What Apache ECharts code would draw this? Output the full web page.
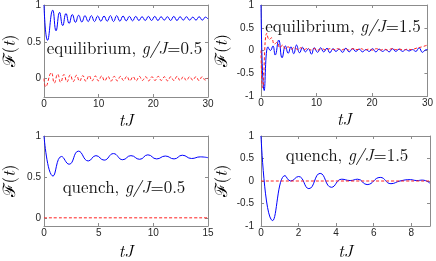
<!DOCTYPE html>
<html><head><meta charset="utf-8">
<script src="https://cdn.jsdelivr.net/npm/echarts@6/dist/echarts.min.js"></script>
<style>html,body{margin:0;padding:0;background:#fff}#c{width:436px;height:261px}</style>
</head><body><div id="c"></div>
<script>
// ---- data: [tJ, F(t)] ----
const eq05Blue = [[0,1.0],[0.65,0.52],[1.6,0.93],[2.2,0.65],[2.85,0.9],[3.42,0.72],[4.02,0.885],[4.6,0.75],[5.18,0.87],[5.76,0.765],[6.34,0.86],[6.92,0.77],[7.5,0.855],[8.08,0.775],[8.66,0.855],[9.24,0.775],[9.82,0.85],[10.4,0.78],[10.98,0.85],[11.56,0.78],[12.14,0.855],[12.72,0.775],[13.3,0.855],[13.88,0.78],[14.46,0.85],[15.04,0.785],[15.62,0.845],[16.2,0.785],[16.78,0.845],[17.36,0.79],[17.94,0.84],[18.52,0.79],[19.1,0.845],[19.68,0.79],[20.26,0.845],[20.84,0.79],[21.42,0.84],[22.0,0.795],[22.58,0.84],[23.16,0.79],[23.74,0.845],[24.32,0.79],[24.9,0.84],[25.48,0.795],[26.06,0.84],[26.64,0.795],[27.22,0.835],[27.8,0.795],[28.38,0.84],[28.96,0.795],[29.54,0.835],[30,0.81]];
const eq05Red = [[0,0],[0.3,-0.11],[1.35,0.08],[1.9,-0.06],[2.5,0.06],[3.05,-0.05],[3.65,0.055],[4.2,-0.045],[4.8,0.05],[5.35,-0.04],[5.95,0.045],[6.5,-0.035],[7.1,0.04],[7.65,-0.035],[8.25,0.04],[8.8,-0.03],[9.4,0.035],[9.95,-0.03],[10.55,0.035],[11.1,-0.03],[11.7,0.03],[12.25,-0.035],[12.85,0.03],[13.4,-0.03],[14.0,0.03],[14.55,-0.025],[15.15,0.03],[15.7,-0.03],[16.3,0.025],[16.85,-0.03],[17.45,0.03],[18.0,-0.025],[18.6,0.025],[19.15,-0.03],[19.75,0.025],[20.3,-0.025],[20.9,0.03],[21.45,-0.025],[22.05,0.025],[22.6,-0.03],[23.2,0.025],[23.75,-0.025],[24.35,0.03],[24.9,-0.025],[25.5,0.025],[26.05,-0.025],[26.65,0.025],[27.2,-0.02],[27.8,0.025],[28.35,-0.025],[28.95,0.025],[29.5,-0.02],[30,0.01]];
const eq15Blue = [[0,1.0],[0.58,-0.88],[1.25,0.08],[1.7,0.0],[2.15,0.1],[2.55,-0.1],[3.2,0.23],[3.8,-0.16],[4.4,0.1],[4.9,-0.06],[5.4,0.08],[5.9,-0.07],[6.4,0.12],[6.95,-0.05],[7.5,0.07],[8.0,-0.03],[8.55,0.04],[9.1,-0.08],[9.6,0.06],[10.2,-0.04],[10.75,0.06],[11.3,-0.03],[11.9,0.05],[12.4,-0.05],[13.0,0.04],[13.5,-0.02],[14.1,0.03],[14.7,-0.04],[15.3,0.05],[15.9,-0.03],[16.5,0.04],[17.1,-0.02],[17.7,0.03],[18.3,-0.03],[18.9,0.02],[19.5,-0.02],[20.1,0.04],[20.7,-0.03],[21.3,0.03],[21.9,-0.02],[22.5,0.02],[23.1,-0.03],[23.7,0.04],[24.3,-0.02],[24.9,0.03],[25.5,-0.02],[26.1,0.02],[26.7,-0.01],[27.3,0.02],[27.9,-0.02],[28.5,0.06],[29.1,-0.04],[29.6,0.01],[30,0.02]];
const eq15Red = [[0,0],[0.3,-0.82],[1.05,0.38],[1.5,0.24],[1.9,0.28],[2.4,0.14],[2.9,0.18],[3.4,0.06],[3.9,0.12],[4.4,0.04],[4.9,0.08],[5.5,0.03],[6.0,0.07],[6.6,0.02],[7.2,0.06],[7.8,0.02],[8.4,0.05],[9.0,0.01],[9.6,0.04],[10.3,0.01],[11.0,0.04],[11.7,0.01],[12.4,0.04],[13.1,0.02],[13.8,0.04],[14.5,0.01],[15.2,0.04],[15.9,0.01],[16.6,0.04],[17.3,0.02],[18.0,0.04],[18.7,0.01],[19.4,0.03],[20.1,0.01],[20.8,0.04],[21.5,0.01],[22.2,0.03],[22.9,0.01],[23.6,0.04],[24.3,0.02],[25.0,0.03],[25.7,0.01],[26.4,0.03],[27.1,0.02],[28.0,0.05],[29.0,0.08],[30,0.12]];
const qu05Blue = [[0,1.0],[0.83,0.51],[1.6,0.75],[2.3,0.655],[3.15,0.815],[4.05,0.695],[4.75,0.76],[5.5,0.705],[6.35,0.785],[7.2,0.71],[7.95,0.76],[8.75,0.715],[9.5,0.77],[10.3,0.72],[11.1,0.755],[11.9,0.72],[12.65,0.765],[13.5,0.725],[14.3,0.745],[15,0.735]];
const qu05Red = [[0,0],[15,0]];
const qu15Blue = [[0,1.0],[0.62,-0.88],[1.28,0.12],[1.58,0.0],[2.0,0.1],[2.55,-0.17],[3.15,0.17],[3.75,-0.14],[4.3,0.04],[4.75,0.01],[5.15,0.04],[5.65,-0.08],[6.35,0.08],[6.92,-0.06],[7.4,0.0],[7.95,0.03],[8.3,0.01],[8.6,0.02],[9,-0.05]];
const qu15Red = [[0,0],[9,0]];
// ---- tick labels ----
const xTicksLong = [0,10,20,30];
const xTicksQ05 = [0,5,10,15];
const xTicksQ15 = [0,2,4,6,8];
const yTicksPos = [0,0.5,1];
const yTicksSym = [-1,-0.5,0,0.5,1];
// ---- annotation texts: [upright, italic, upright] ----
const labels = [['equilibrium, ','g/J','=0.5'],['equilibrium, ','g/J','=1.5'],['quench, ','g/J','=0.5'],['quench, ','g/J','=1.5']];

const LINE = '#8c8c8c', TXT = '#262626';
const LM = 'Latin Modern Roman';
const FS = 17;
const tickFont = {color:TXT, fontSize:10, fontFamily:'Liberation Sans'};
const panels = [
  {grid:{left:39, top:3, width:169, height:94}, x:[0,30], y:[-0.25,1], xt:xTicksLong, yt:yTicksPos, blue:eq05Blue, red:eq05Red, ym:3, xg:15, yg:26, txt:[124.5,49]},
  {grid:{left:261, top:3, width:169, height:93}, x:[0,30], y:[-1,1], xt:xTicksLong, yt:yTicksSym, blue:eq15Blue, red:eq15Red, ym:7, xg:15, yg:31, txt:[343,26.5]},
  {grid:{left:39, top:136, width:169, height:90}, x:[0,15], y:[-0.1,1], xt:xTicksQ05, yt:yTicksPos, blue:qu05Blue, red:qu05Red, ym:3, xg:17, yg:26, txt:[124,188]},
  {grid:{left:261, top:136, width:169, height:91}, x:[0,9], y:[-1,1], xt:xTicksQ15, yt:yTicksSym, blue:qu15Blue, red:qu15Red, ym:7, xg:17, yg:31, txt:[347,155.5]}
];
const ctx = document.createElement('canvas').getContext('2d');
function fontStr(it){ return (it?'italic ':'') + FS + 'px "' + LM + '"'; }
const xAxis=[], yAxis=[], series=[], graphic=[];
panels.forEach((p,i)=>{
  const common = (ticks)=>({axisLine:{show:true,onZero:false,lineStyle:{color:LINE,width:1}},
    axisTick:{show:true,inside:true,length:3,customValues:ticks,lineStyle:{color:LINE,width:1}},
    splitLine:{show:false}});
  xAxis.push(Object.assign({type:'value',gridIndex:i,min:p.x[0],max:p.x[1],position:'bottom',
    axisLabel:Object.assign({customValues:p.xt,margin:2},tickFont),
    name:'tJ',nameLocation:'middle',nameGap:p.xg,
    nameTextStyle:{fontFamily:LM,fontStyle:'italic',fontSize:FS,color:'#000'}},common(p.xt)));
  xAxis.push(Object.assign({type:'value',gridIndex:i,min:p.x[0],max:p.x[1],position:'top',axisLabel:{show:false}},common(p.xt)));
  yAxis.push(Object.assign({type:'value',gridIndex:i,min:p.y[0],max:p.y[1],position:'left',
    axisLabel:Object.assign({customValues:p.yt,margin:p.ym},tickFont),
    name:'{f|ℱ}{p|(}{i|t}{p|)}',nameLocation:'middle',nameGap:p.yg,
    nameTextStyle:{fontFamily:LM,fontSize:FS,color:'#000',
      rich:{f:{fontFamily:LM,fontSize:FS,color:'#000'},p:{fontFamily:LM,fontSize:FS,color:'#000'},
            i:{fontFamily:LM,fontStyle:'italic',fontSize:FS,color:'#000'}}}},common(p.yt)));
  yAxis.push(Object.assign({type:'value',gridIndex:i,min:p.y[0],max:p.y[1],position:'right',axisLabel:{show:false}},common(p.yt)));
  series.push({type:'line',xAxisIndex:2*i,yAxisIndex:2*i,data:p.blue,smooth:0.5,showSymbol:false,
    lineStyle:{color:'#0000ff',width:1},z:2});
  series.push({type:'line',xAxisIndex:2*i,yAxisIndex:2*i,data:p.red,smooth:0.5,showSymbol:false,
    lineStyle:{color:'#ff2020',width:1,type:[3,2]},z:3});
  // annotation, laid out piecewise (upright / italic / upright)
  const parts = labels[i];
  const widths = parts.map((t,k)=>{ctx.font = fontStr(k===1); return ctx.measureText(t).width;});
  let x0 = p.txt[0] - widths.reduce((a,b)=>a+b,0)/2;
  parts.forEach((t,k)=>{
    graphic.push({type:'text',x:x0,y:p.txt[1],z:10,style:{text:t,fontFamily:LM,fontSize:FS,
      fontStyle:k===1?'italic':'normal',fill:'#111',align:'left',verticalAlign:'middle'}});
    x0 += widths[k];
  });
});
const chart = echarts.init(document.getElementById('c'));
chart.setOption({animation:false,backgroundColor:'#fff',
  grid:panels.map(p=>Object.assign({show:false},p.grid)),
  xAxis, yAxis, series, graphic});
</script></body></html>
